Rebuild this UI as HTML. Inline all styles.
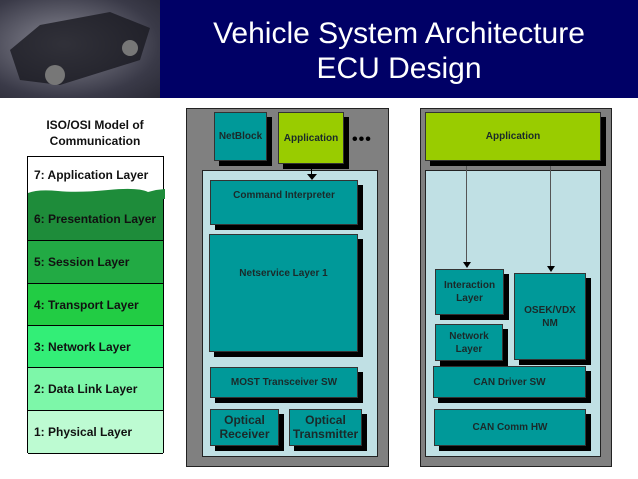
<!DOCTYPE html>
<html><head><style>
body{margin:0;width:638px;height:479px;background:#fff;position:relative;overflow:hidden;font-family:"Liberation Sans",sans-serif}
.a{position:absolute;box-sizing:border-box}
.t{display:flex;align-items:center;justify-content:center;text-align:center;font-weight:bold;color:#1a2a2a;font-size:10px;line-height:1.3}
.b{background:#009999;border:1px solid #333;box-shadow:5px 5px 0 #000}
.l{border-bottom:1px solid #000;font-weight:bold;font-size:12px;padding-left:6px;display:flex;align-items:center;color:#111;position:absolute;left:0;width:100%;box-sizing:border-box}
</style></head><body>
<div class="a" style="left:0;top:0;width:160px;height:98px;background:radial-gradient(ellipse at 40% 45%,#8a8a95,#3a3a48 70%,#2a2a35)"></div>
<svg class="a" style="left:0;top:0" width="160" height="98"><path d="M10,50 L40,25 L110,12 L150,28 L140,60 L60,85 L20,80 Z" fill="#1a1a22" opacity="0.8"/><circle cx="55" cy="75" r="10" fill="#777"/><circle cx="130" cy="48" r="8" fill="#777"/></svg>
<div class="a" style="left:160px;top:0;width:478px;height:98px;background:#000066;color:#fff;font-size:30px;text-align:center;line-height:35px;padding-top:16px">Vehicle System Architecture<br>ECU Design</div>

<div class="a t" style="left:20px;top:118px;width:150px;font-size:12px;color:#111">ISO/OSI Model of<br>Communication</div>
<div class="a" style="left:27px;top:156px;width:137px;height:297px;border:1px solid #000;border-bottom:none">
<div class="l" style="top:0;height:41px;background:#fff;border:none;padding-bottom:6px">7: Application Layer</div>
<svg class="a" style="left:0;top:30px" width="137" height="12"><path d="M0,6 Q10,2 30,4 T80,3 T120,5 L128,3 L137,2 L137,12 L0,12 Z" fill="#1e8c3a"/></svg>
<div class="l" style="top:41px;height:43px;background:#1e8c3a">6: Presentation Layer</div>
<div class="l" style="top:84px;height:43px;background:#22aa44">5: Session Layer</div>
<div class="l" style="top:127px;height:42px;background:#22cc44">4: Transport Layer</div>
<div class="l" style="top:169px;height:42px;background:#33ee77">3: Network Layer</div>
<div class="l" style="top:211px;height:43px;background:#7df7a9">2: Data Link Layer</div>
<div class="l" style="top:254px;height:43px;background:#bdfbd2">1: Physical Layer</div>
</div>

<div class="a" style="left:186px;top:108px;width:203px;height:359px;background:#808080;border:1px solid #222"></div>
<div class="a" style="left:202px;top:170px;width:176px;height:287px;background:#c0e0e4;border:1px solid #222"></div>
<div class="a t b" style="left:214px;top:112px;width:53px;height:49px">NetBlock</div>
<div class="a t b" style="left:278px;top:112px;width:66px;height:52px;background:#99cc00">Application</div>
<div class="a" style="left:352px;top:131px;font-size:16px;font-weight:bold;letter-spacing:1px">•••</div>
<div class="a" style="left:311px;top:164px;width:1px;height:12px;background:#000"></div>
<div class="a" style="left:307px;top:174px;border-left:5px solid transparent;border-right:5px solid transparent;border-top:6px solid #000"></div>
<div class="a t b" style="left:210px;top:180px;width:148px;height:45px;align-items:flex-start;padding-top:8px">Command Interpreter</div>
<div class="a t b" style="left:209px;top:234px;width:149px;height:118px;align-items:flex-start;padding-top:32px">Netservice Layer 1</div>
<div class="a t b" style="left:210px;top:367px;width:148px;height:31px">MOST Transceiver SW</div>
<div class="a t b" style="left:210px;top:409px;width:69px;height:37px;font-size:12px;line-height:1.15">Optical<br>Receiver</div>
<div class="a t b" style="left:289px;top:409px;width:73px;height:37px;font-size:12px;line-height:1.15">Optical<br>Transmitter</div>

<div class="a" style="left:420px;top:108px;width:192px;height:359px;background:#808080;border:1px solid #222"></div>
<div class="a" style="left:425px;top:170px;width:176px;height:287px;background:#c0e0e4;border:1px solid #222"></div>
<div class="a t b" style="left:425px;top:112px;width:176px;height:49px;background:#99cc00">Application</div>
<div class="a" style="left:466px;top:166px;width:1px;height:98px;background:#555"></div>
<div class="a" style="left:463px;top:262px;border-left:4px solid transparent;border-right:4px solid transparent;border-top:6px solid #000"></div>
<div class="a" style="left:550px;top:166px;width:1px;height:102px;background:#555"></div>
<div class="a" style="left:547px;top:266px;border-left:4px solid transparent;border-right:4px solid transparent;border-top:6px solid #000"></div>
<div class="a t b" style="left:435px;top:269px;width:69px;height:46px">Interaction<br>Layer</div>
<div class="a t b" style="left:435px;top:324px;width:68px;height:37px">Network<br>Layer</div>
<div class="a t b" style="left:514px;top:273px;width:72px;height:87px">OSEK/VDX<br>NM</div>
<div class="a t b" style="left:433px;top:366px;width:153px;height:32px">CAN Driver SW</div>
<div class="a t b" style="left:434px;top:409px;width:152px;height:37px">CAN Comm HW</div>
</body></html>
